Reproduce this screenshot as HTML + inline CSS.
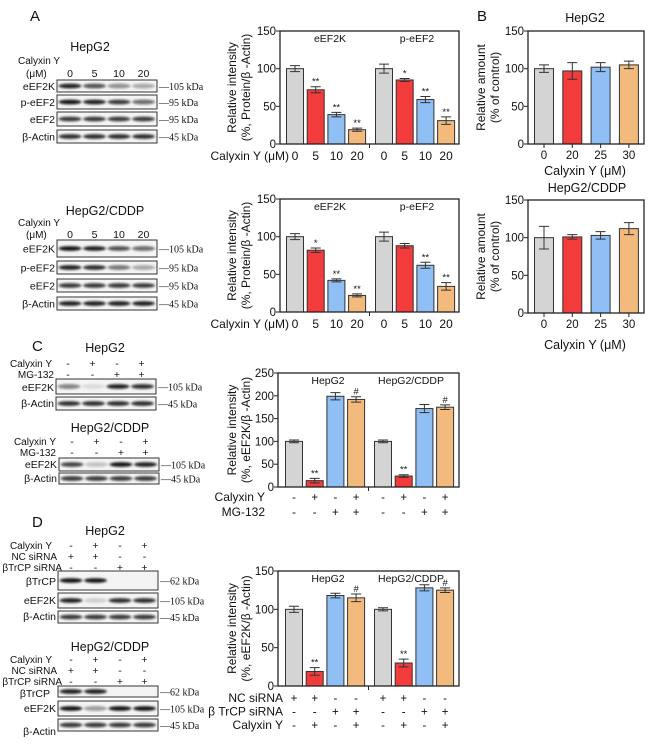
<!DOCTYPE html>
<html><head><meta charset="utf-8"><style>
body{margin:0;background:#fff;width:650px;height:739px;overflow:hidden}
svg text{font-family:"Liberation Sans",Arial,sans-serif;fill:#111}
.ser{font-family:"Liberation Serif",serif}
</style></head><body>
<svg id="fig" width="650" height="739" viewBox="0 0 650 739" xmlns="http://www.w3.org/2000/svg">
<defs><filter id="blur" x="-20%" y="-50%" width="140%" height="200%"><feGaussianBlur stdDeviation="1.1"/></filter></defs>
</svg>
<script>
// ---- data ----
const colors = ["#d4d4d4","#f23b3b","#8fbff4","#f3ba7d"];
const a1Values = [100,72,39,19,100,85,59,31];
const a1Err = [4,4,3,2,6,2,4,5];
const a1Sig = ["","**","**","**","","*","**","**"];
const a2Values = [100,82,42,22,100,88,62,34];
const a2Err = [4,3,2,2,6,3,4,5];
const a2Sig = ["","*","**","**","","","**","**"];
const aTickLabels = ["0","5","10","20","0","5","10","20"];
const aGroups = ["eEF2K","p-eEF2"];
const b1Values = [100,97,102,105];
const b1Err = [5,11,6,5];
const b2Values = [100,101,103,112];
const b2Err = [15,3,5,8];
const bTickLabels = ["0","20","25","30"];
const cValues = [100,14,199,192,100,24,172,175];
const cErr = [3,5,8,6,3,3,9,5];
const cSig = ["","**","","#","","**","","#"];
const cRowCalyxin = ["-","+","-","+","-","+","-","+"];
const cRowMG = ["-","-","+","+","-","-","+","+"];
const dValues = [100,19,118,115,100,30,128,125];
const dErr = [4,5,3,5,2,5,4,3];
const dSig = ["","**","","#","","**","","#"];
const dRowNC = ["+","+","-","-","+","+","-","-"];
const dRowTrCP = ["-","-","+","+","-","-","+","+"];
const dRowCal = ["-","+","-","+","-","+","-","+"];
const cdGroups = ["HepG2","HepG2/CDDP"];

const NS="http://www.w3.org/2000/svg";
const svg=document.getElementById('fig');
function mk(tag,attrs,parent){const e=document.createElementNS(NS,tag);for(const k in attrs)e.setAttribute(k,attrs[k]);(parent||svg).appendChild(e);return e;}
function txt(s,x,y,size,anchor,parent,cls){const t=mk('text',{x:x,y:y,'font-size':size,'text-anchor':anchor||'start'},parent);if(cls)t.setAttribute('class',cls);t.textContent=s;return t;}

function chart(name,o){
  const g=mk('g',{});
  
  
  const ys=v=>o.bottom-v/o.max*(o.bottom-o.top);
  const xs=i=>o.left+o.off+(i%4)*o.step+Math.floor(i/4)*o.gstep;
  o.values.forEach((v,i)=>{
    const r=mk('rect',{x:xs(i)-o.w/2,y:ys(v),width:o.w,height:o.bottom-ys(v),fill:colors[i%4],stroke:'#333','stroke-width':1},g);
    
    
    const e=o.err[i],cx=xs(i);
    const eb=mk('path',{d:`M${cx},${ys(v+e)}V${ys(v-e)}M${cx-5},${ys(v+e)}H${cx+5}M${cx-5},${ys(v-e)}H${cx+5}`,stroke:'#333','stroke-width':1,fill:'none'},g);
    
    
    if(o.sig&&o.sig[i]){const s=txt(o.sig[i],cx,ys(v+e)-2,9.5,'middle',g);}
  });
  const f=mk('rect',{x:o.left,y:o.top,width:o.right-o.left,height:o.bottom-o.top,fill:'none',stroke:'#222','stroke-width':1.3},g);
  
  
  o.yticks.forEach(t=>{
    mk('line',{x1:o.left-4,x2:o.left,y1:ys(t),y2:ys(t),stroke:'#222'},g);
    const l=txt(String(t),o.left-4,ys(t)+4,11.5,'end',g);
    
    
  });
  if(o.midTick)mk('line',{x1:(o.left+o.right)/2,x2:(o.left+o.right)/2,y1:o.bottom,y2:o.bottom+4,stroke:'#222'},g);
  if(o.xTicks)o.values.forEach((v,i)=>mk('line',{x1:xs(i),x2:xs(i),y1:o.bottom,y2:o.bottom+4,stroke:'#222'},g));
  const yt=mk('text',{transform:`translate(${o.ylx},${(o.top+o.bottom)/2}) rotate(-90)`,'font-size':12,'text-anchor':'middle'},g);
  
  
  o.ylab.forEach((s,k)=>{const ts=mk('tspan',{x:0,dy:k?14:0},yt);ts.textContent=s;});
  if(o.groups)o.groups.forEach((s,k)=>{const t=txt(s,o.left+o.gpos[k],o.top+11,10.5,'middle',g);});
  if(o.rows)o.rows.forEach((r,k)=>{
    const y=o.rowY+k*o.rowH;
    const l=txt(r.label,o.rowLabelX,y,r.size||12,'end',g);
    
    
    r.vals.forEach((s,i)=>{const t=txt(s,xs(i),y,r.size||11.5,'middle',g);});
  });
  return g;
}

chart('chart-a-hepg2',{left:280,right:459,top:31,bottom:144,max:150,off:15,step:20.7,gstep:89,w:17,values:a1Values,err:a1Err,sig:a1Sig,yticks:[0,50,100,150],midTick:true,ylx:236,ylab:["Relative intensity","(%, Protein/β -Actin)"],groups:aGroups,gpos:[50,137],rows:[{label:"Calyxin Y (μM)",vals:aTickLabels,size:12}],rowY:160,rowH:14,rowLabelX:289});
chart('chart-a-hepg2-cddp',{left:280,right:459,top:199,bottom:312,max:150,off:15,step:20.7,gstep:89,w:17,values:a2Values,err:a2Err,sig:a2Sig,yticks:[0,50,100,150],midTick:true,ylx:236,ylab:["Relative intensity","(%, Protein/β -Actin)"],groups:aGroups,gpos:[50,137],rows:[{label:"Calyxin Y (μM)",vals:aTickLabels,size:12}],rowY:328,rowH:14,rowLabelX:289});
chart('chart-b-hepg2',{left:528,right:644,top:31,bottom:144,max:150,off:16,step:28.3,gstep:0,w:19,values:b1Values,err:b1Err,yticks:[0,50,100,150],xTicks:true,ylx:485,ylab:["Relative amount","(% of control)"],rows:[{label:"",vals:bTickLabels}],rowY:159,rowH:14,rowLabelX:520});
chart('chart-b-hepg2-cddp',{left:528,right:644,top:200,bottom:313,max:150,off:16,step:28.3,gstep:0,w:19,values:b2Values,err:b2Err,yticks:[0,50,100,150],xTicks:true,ylx:485,ylab:["Relative amount","(% of control)"],rows:[{label:"",vals:bTickLabels}],rowY:328,rowH:14,rowLabelX:520});
chart('chart-c',{left:278,right:459,top:373,bottom:487,max:250,off:16,step:20.7,gstep:89,w:17,values:cValues,err:cErr,sig:cSig,yticks:[0,50,100,150,200,250],midTick:true,ylx:236,ylab:["Relative intensity","(%, eEF2K/β -Actin)"],groups:cdGroups,gpos:[50,133],rows:[{label:"Calyxin Y",vals:cRowCalyxin},{label:"MG-132",vals:cRowMG}],rowY:501,rowH:15,rowLabelX:265});
chart('chart-d',{left:278,right:459,top:571,bottom:686,max:150,off:16,step:20.7,gstep:89,w:17,values:dValues,err:dErr,sig:dSig,yticks:[0,50,100,150],midTick:true,ylx:236,ylab:["Relative intensity","(%, eEF2K/β -Actin)"],groups:cdGroups,gpos:[50,133],rows:[{label:"NC siRNA",vals:dRowNC},{label:"β TrCP siRNA",vals:dRowTrCP},{label:"Calyxin Y",vals:dRowCal}],rowY:702,rowH:13.5,rowLabelX:283});

[["HepG2",585,22],["Calyxin Y (μM)",585,175],["HepG2/CDDP",587,192],["Calyxin Y (μM)",585,349]].forEach(a=>{const t=txt(a[0],a[1],a[2],12.5,'middle');});
[["A",30,21],["B",477,21],["C",32,351],["D",32,527]].forEach(a=>{const t=txt(a[0],a[1],a[2],15,'start');});

// ---- western blots ----
function blot(name,x,y,h,inten,kda){
  const g=mk('g',{});
  
  
  mk('rect',{x:x,y:y,width:100,height:h,fill:'#f4f4f4',stroke:'#333','stroke-width':1},g);
  inten.forEach((v,i)=>{if(v>0)mk('ellipse',{cx:x+13+i*24.5,cy:y+h/2,rx:11.5,ry:2.4,fill:'#111','fill-opacity':v,filter:'url(#blur)'},g);});
  const k=txt('—'+kda,x+102,y+h/2+4,10,'start',g,'ser');
  
  
}
function label(s,x,y,size,anchor){const t=txt(s,x,y,size||10.5,anchor||'end');return t;}
function lanes(vals,y,x){vals.forEach((s,i)=>{const t=txt(s,x+13+i*24.5,y,10.5,'middle');});}

// A HepG2
label("HepG2",90,51,12.5,'middle');
label("Calyxin Y",18,64,10,'start');label("(μM)",26,77,10,'start');lanes(["0","5","10","20"],77,57);
[["eEF2K",80,12,[.9,.7,.45,.35],"105 kDa"],["p-eEF2",95,14,[.95,.9,.8,.6],"95 kDa"],["eEF2",112,14,[.8,.8,.8,.8],"95 kDa"],["β-Actin",130,13,[.85,.85,.85,.85],"45 kDa"]].forEach(r=>{label(r[0],55,r[1]+r[2]/2+4);blot('blot-a-hepg2-'+r[0],57,r[1],r[2],r[3],r[4]);});
// A CDDP
label("HepG2/CDDP",105,215,12.5,'middle');
label("Calyxin Y",18,226,10,'start');label("(μM)",26,238,10,'start');lanes(["0","5","10","20"],238,57);
[["eEF2K",240,17,[.95,.9,.7,.6],"105 kDa"],["p-eEF2",261,13,[.9,.85,.55,.35],"95 kDa"],["eEF2",279,13,[.8,.8,.8,.8],"95 kDa"],["β-Actin",297,13,[.9,.9,.9,.9],"45 kDa"]].forEach(r=>{label(r[0],55,r[1]+r[2]/2+4);blot('blot-a-cddp-'+r[0],57,r[1],r[2],r[3],r[4]);});
// C HepG2
label("HepG2",105,352,12.5,'middle');
label("Calyxin Y",52,367,10);lanes(["-","+","-","+"],367,55);
label("MG-132",54,378,10);lanes(["-","-","+","+"],378,55);
blot('blot-c-hepg2-eEF2K',56,379,15,[.5,.1,.9,.85],"105 kDa");label("eEF2K",54,391);
blot('blot-c-hepg2-actin',56,397,13,[.85,.85,.85,.85],"45 kDa");label("β-Actin",54,407);
// C CDDP
label("HepG2/CDDP",110,432,12.5,'middle');
label("Calyxin Y",56,445,10);lanes(["-","+","-","+"],445,59);
label("MG-132",56,456,10);lanes(["-","-","+","+"],456,59);
blot('blot-c-cddp-eEF2K',59,458,13,[.75,.2,.95,.9],"105 kDa");label("eEF2K",57,468);
blot('blot-c-cddp-actin',59,473,11,[.8,.8,.8,.8],"45 kDa");label("β-Actin",57,482);
// D HepG2
label("HepG2",105,535,12.5,'middle');
label("Calyxin Y",52,549,10);lanes(["-","+","-","+"],549,58);
label("NC siRNA",57,560,10);lanes(["+","+","-","-"],560,58);
label("βTrCP siRNA",62,571,10);lanes(["-","-","+","+"],571,58);
blot('blot-d-hepg2-btrcp',58,571,19,[.95,.95,0,0],"62 kDa");label("βTrCP",56,585);
blot('blot-d-hepg2-eEF2K',58,593,15,[.9,.15,.85,.85],"105 kDa");label("eEF2K",56,604);
blot('blot-d-hepg2-actin',58,611,12,[.8,.8,.8,.8],"45 kDa");label("β-Actin",56,620);
// D CDDP
label("HepG2/CDDP",110,651,12.5,'middle');
label("Calyxin Y",52,663,10);lanes(["-","+","-","+"],663,58);
label("NC siRNA",57,674,10);lanes(["+","+","-","-"],674,58);
label("βTrCP siRNA",62,685,10);lanes(["-","-","+","+"],685,58);
blot('blot-d-cddp-btrcp',58,686,11,[.9,.9,0,0],"62 kDa");label("βTrCP",50,697);
blot('blot-d-cddp-eEF2K',58,701,15,[.95,.4,.95,.95],"105 kDa");label("eEF2K",56,712);
blot('blot-d-cddp-actin',58,719,12,[.8,.8,.8,.8],"45 kDa");label("β-Actin",56,735);
</script>
</body></html>
